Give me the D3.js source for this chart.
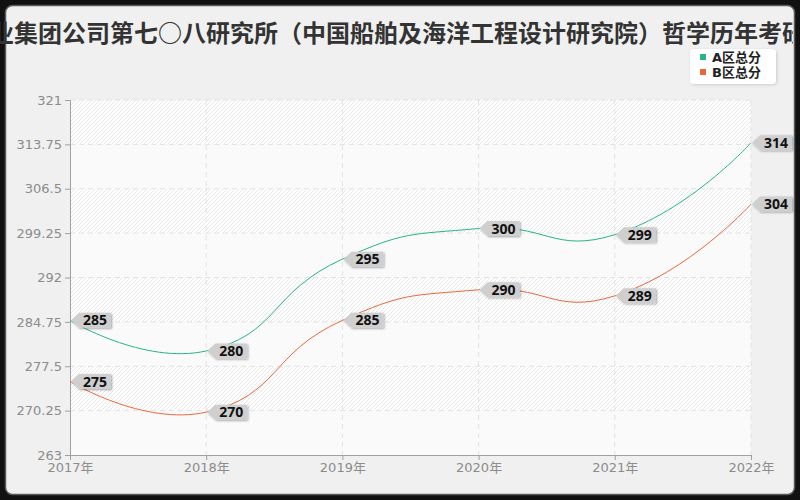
<!DOCTYPE html>
<html>
<head>
<meta charset="utf-8">
<script src="https://cdn.jsdelivr.net/npm/d3@7"></script>
<style>
html,body{margin:0;padding:0;background:#111;}
svg{display:block;}
</style>
</head>
<body>
<svg id="chart" width="800" height="500"></svg>
<script>
const titleText = "中国船舶工业集团公司第七○八研究所（中国船舶及海洋工程设计研究院）哲学历年考研分数线";
const years = ["2017年","2018年","2019年","2020年","2021年","2022年"];
const seriesA = [285,280,295,300,299,314];
const seriesB = [275,270,285,290,289,304];
const seriesNames = ["A区总分","B区总分"];
const seriesColors = ["#27b48b","#e8693a"];
const yTicks = [263,270.25,277.5,284.75,292,299.25,306.5,313.75,321];

const svg = d3.select("#chart");
const m = {left:70, right:751, top:100, bottom:455};

const defs = svg.append("defs");
const pat = defs.append("pattern").attr("id","hatch").attr("patternUnits","userSpaceOnUse")
  .attr("width",4).attr("height",4);
pat.append("rect").attr("width",4).attr("height",4).attr("fill","#ffffff");
pat.append("path").attr("d","M-1,1 l2,-2 M0,4 l4,-4 M3,5 l2,-2")
  .attr("stroke","#e8e8e8").attr("stroke-width",1);
const sh = defs.append("filter").attr("id","shadow").attr("x","-20%").attr("y","-30%").attr("width","150%").attr("height","170%");
sh.append("feDropShadow").attr("dx",1).attr("dy",1).attr("stdDeviation",0.8).attr("flood-color","#000").attr("flood-opacity",0.35);
const sh2 = defs.append("filter").attr("id","shadow2").attr("x","-20%").attr("y","-30%").attr("width","140%").attr("height","160%");
sh2.append("feDropShadow").attr("dx",1).attr("dy",1).attr("stdDeviation",1.5).attr("flood-color","#000").attr("flood-opacity",0.15);
defs.append("clipPath").attr("id","titleClip").append("rect")
  .attr("x",-300).attr("y",0).attr("width",1093).attr("height",60);

// frame
svg.append("rect").attr("x",5.5).attr("y",5.5).attr("width",789).attr("height",489).attr("rx",7)
  .attr("fill","#f0f0f0").attr("stroke","#5a5a5a").attr("stroke-width",1.5);

const x = d3.scalePoint().domain(years).range([m.left, m.right]);
const y = d3.scaleLinear().domain([263,321]).range([m.bottom, m.top]);

// plot background
svg.append("rect").attr("x",m.left).attr("y",m.top).attr("width",m.right-m.left).attr("height",m.bottom-m.top)
  .attr("fill","url(#hatch)");
for (let i = 0; i < yTicks.length-1; i++) {
  const lo = yTicks[i], hi = yTicks[i+1];
  if (i % 2 === 0) {
    svg.append("rect").attr("x",m.left).attr("y",y(hi)).attr("width",m.right-m.left).attr("height",y(lo)-y(hi))
      .attr("fill","#fafafa").attr("fill-opacity",0.8);
  }
}

// grid
const grid = svg.append("g");
grid.selectAll("line.h").data(yTicks.slice(1)).join("line")
  .attr("x1",m.left).attr("x2",m.right).attr("y1",d=>y(d)).attr("y2",d=>y(d))
  .attr("stroke","#e2e2e2").attr("stroke-dasharray","5,4");
grid.selectAll("line.v").data(years.slice(1)).join("line")
  .attr("y1",m.top).attr("y2",m.bottom).attr("x1",d=>x(d)).attr("x2",d=>x(d))
  .attr("stroke","#e2e2e2").attr("stroke-dasharray","5,4");

// axes
const fontAxis = "'DejaVu Sans','Noto Sans CJK SC',sans-serif";
const yAxis = svg.append("g").attr("transform",`translate(${m.left},0)`)
  .call(d3.axisLeft(y).tickValues(yTicks).tickSize(5).tickPadding(3).tickFormat(d=>String(d)));
const xAxis = svg.append("g").attr("transform",`translate(0,${m.bottom})`)
  .call(d3.axisBottom(x).tickSize(5).tickPadding(3));
[yAxis,xAxis].forEach(a=>{
  a.select(".domain").attr("stroke","#a0a0a0");
  a.selectAll(".tick line").attr("stroke","#a0a0a0");
  a.selectAll(".tick text").attr("fill","#8c8c8c").style("font-family",fontAxis).style("font-size","13px");
});

// ECharts-like smooth line
function smoothPath(pts, smooth) {
  let d = `M${pts[0][0]},${pts[0][1]}`;
  let cp0 = pts[0];
  for (let i = 1; i < pts.length; i++) {
    const p = pts[i];
    let cp1, next0 = p;
    if (i === pts.length - 1) { cp1 = p; }
    else {
      const prev = pts[i-1], nxt = pts[i+1];
      const vx = nxt[0]-prev[0], vy = nxt[1]-prev[1];
      const lp = Math.hypot(p[0]-prev[0], p[1]-prev[1]);
      const ln = Math.hypot(p[0]-nxt[0], p[1]-nxt[1]);
      const r = ln/(ln+lp);
      cp1 = [p[0]-vx*smooth*(1-r), p[1]-vy*smooth*(1-r)];
      next0 = [p[0]+vx*smooth*r, p[1]+vy*smooth*r];
    }
    d += `C${cp0[0]},${cp0[1]},${cp1[0]},${cp1[1]},${p[0]},${p[1]}`;
    cp0 = next0;
  }
  return d;
}

const series = [seriesA, seriesB];
series.forEach((vals, si) => {
  const pts = vals.map((v,i)=>[x(years[i]), y(v)]);
  svg.append("path").attr("d", smoothPath(pts, 0.5)).attr("fill","none")
    .attr("stroke", seriesColors[si]).attr("stroke-width",1);
});

// labels
series.forEach((vals, si) => {
  const g = svg.append("g");
  vals.forEach((v,i)=>{
    const px = x(years[i]), py = y(v);
    const lg = g.append("g").attr("transform",`translate(${px},${py})`);
    lg.append("path").attr("d","M1,0 L9,-7.5 L41,-7.5 L41,7.5 L9,7.5 Z")
      .attr("fill","#cfcfcf").attr("filter","url(#shadow)");
    lg.append("text").attr("x",25).attr("y",5).attr("text-anchor","middle")
      .style("font-family","'Noto Sans','DejaVu Sans',sans-serif").style("font-size","14px").style("font-weight","bold")
      .attr("fill","#111").text(v);
  });
});

// legend
const lg = svg.append("g");
lg.append("rect").attr("x",690).attr("y",49).attr("width",86).attr("height",35).attr("rx",4)
  .attr("fill","#fff").attr("filter","url(#shadow2)");
seriesNames.forEach((n,i)=>{
  const yy = 57 + i*15;
  lg.append("rect").attr("x",700).attr("y",yy-3).attr("width",6).attr("height",6).attr("fill",seriesColors[i]);
  lg.append("text").attr("x",712).attr("y",yy+4.5)
    .style("font-family","'DejaVu Sans','Noto Sans CJK SC',sans-serif").style("font-size","13px").style("font-weight","bold")
    .attr("fill","#222").text(n);
});

// title
svg.append("g").attr("clip-path","url(#titleClip)")
  .append("text").attr("x",-130).attr("y",42)
  .style("font-family","'Noto Sans CJK SC',sans-serif").style("font-size","24px").style("font-weight","bold")
  .attr("fill","#333").text(titleText);
</script>
</body>
</html>
